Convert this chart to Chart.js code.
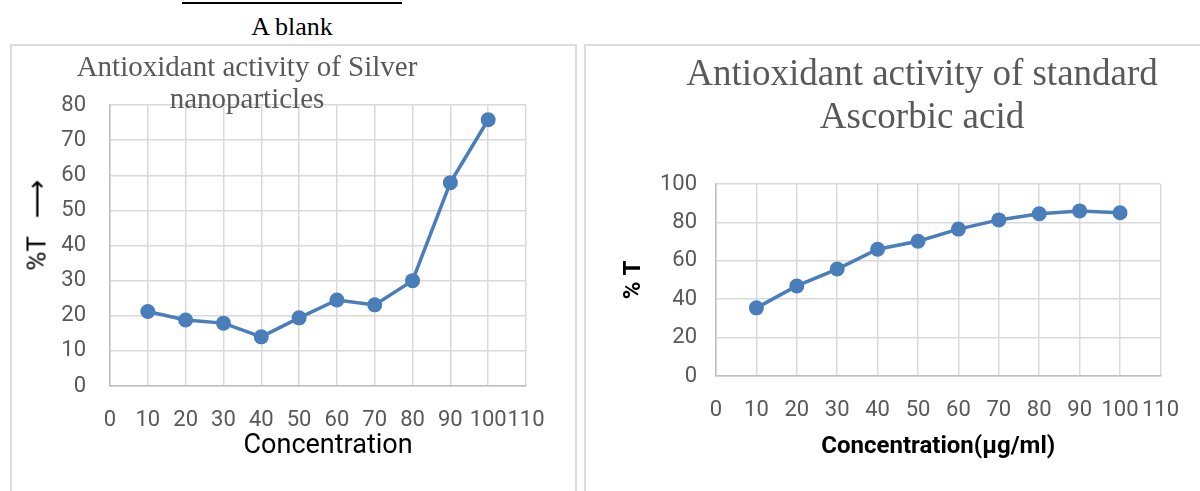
<!DOCTYPE html>
<html>
<head>
<meta charset="utf-8">
<script src="https://cdn.jsdelivr.net/npm/chart.js@4.4.1/dist/chart.umd.min.js"></script>
<style>
  body { margin: 0; background: #fff; width: 1200px; height: 491px; overflow: hidden; position: relative; }
  .abs { position: absolute; }
  .frame { position: absolute; border: 2px solid #dcdcdc; box-sizing: border-box; }
  .ctitle { position: absolute; font-family: "Liberation Serif", serif; color: #595959; text-align: center; }
</style>
</head>
<body>
<div class="abs" style="left:182px;top:2px;width:220px;height:2px;background:#000"></div>
<div class="abs" style="left:192px;top:12px;width:200px;text-align:center;font:26px 'Liberation Serif',serif;line-height:30px;color:#000">A blank</div>

<div class="frame" style="left:10px;top:44px;width:567px;height:470px"></div>
<div class="frame" style="left:584px;top:44px;width:640px;height:470px"></div>

<canvas id="silver" class="abs" style="left:10px;top:42px" width="566" height="449"></canvas>
<canvas id="ascorbic" class="abs" style="left:585px;top:42px" width="615" height="449"></canvas>

<div class="ctitle" style="left:47px;top:50px;width:400px;font-size:29px;line-height:32px">Antioxidant activity of Silver<br>nanoparticles</div>
<div class="ctitle" style="left:622px;top:51px;width:600px;font-size:37px;line-height:43px">Antioxidant activity of standard<br>Ascorbic acid</div>

<div class="abs" style="left:36px;top:225px;transform:translate(-50%,-50%) rotate(-90deg);white-space:nowrap;font:26px Roboto,sans-serif;color:#000;line-height:30px">%T<span style="margin-left:18px;font:27px 'DejaVu Sans',sans-serif">⟶</span></div>

<script>
const concentrations = [10, 20, 30, 40, 50, 60, 70, 80, 90, 100];
const silverT = [21.2, 18.8, 17.9, 14.0, 19.4, 24.5, 23.1, 30.0, 57.9, 75.8];
const ascorbicT = [35.5, 46.9, 55.7, 66.0, 70.2, 76.5, 81.3, 84.5, 86.0, 85.0];

const blue = '#4a7ebb';
const gridColor = '#d9d9d9';
const tickFont = { family: 'Roboto', size: 22 };

const points = (ys) => concentrations.map((c, i) => ({ x: c, y: ys[i] }));

const makeChart = (id, ys, opts) => {
  const ctx = document.getElementById(id).getContext('2d');
  return new Chart(ctx, {
    type: 'line',
    data: {
      datasets: [{
        data: points(ys),
        borderColor: blue,
        backgroundColor: blue,
        borderWidth: 3.5,
        pointRadius: 7.5,
        pointHoverRadius: 7.5,
        pointBorderWidth: 0,
        tension: 0,
      }],
    },
    options: {
      responsive: false,
      animation: false,
      devicePixelRatio: 1,
      layout: { padding: opts.padding },
      plugins: { legend: { display: false }, tooltip: { enabled: false } },
      scales: {
        x: {
          type: 'linear',
          min: 0,
          max: 110,
          afterFit: (s) => { s.height = opts.xHeight; },
          grid: { color: gridColor, lineWidth: 1.5, drawTicks: false },
          border: { color: '#bfbfbf', width: 1.5 },
          ticks: { stepSize: 10, autoSkip: false, maxRotation: 0, color: '#595959', font: tickFont, padding: 21 },
          title: opts.xTitle,
        },
        y: {
          min: 0,
          max: opts.yMax,
          afterFit: (s) => { s.width = opts.yWidth; },
          grid: { color: gridColor, lineWidth: 1.5, drawTicks: false },
          border: { color: '#bfbfbf', width: 1.5 },
          ticks: { stepSize: opts.yStep, color: '#595959', font: tickFont, padding: opts.yPad },
          title: opts.yTitle,
        },
      },
    },
  });
};

makeChart('silver', silverT, {
  padding: { left: 0, top: 63, right: 50, bottom: 0 },
  xHeight: 105,
  yWidth: 100,
  yMax: 80,
  yStep: 10,
  yPad: 24,
  xTitle: { display: true, text: '\u00a0\u00a0\u00a0Concentration', color: '#000', font: { family: 'Roboto', size: 27 }, padding: { top: 0, bottom: 29 } },
  yTitle: { display: false },
});

makeChart('ascorbic', ascorbicT, {
  padding: { left: 0, top: 142, right: 38, bottom: 0 },
  xHeight: 115,
  yWidth: 131,
  yMax: 100,
  yStep: 20,
  yPad: 19,
  xTitle: { display: true, text: 'Concentration(µg/ml)', color: '#000', font: { family: 'Roboto', size: 24, weight: 'bold' }, padding: { top: 0, bottom: 30 } },
  yTitle: { display: true, text: '% T', color: '#000', font: { family: 'Roboto', size: 24, weight: 'bold' }, padding: { top: 35, bottom: 0 } },
});
</script>
</body>
</html>
